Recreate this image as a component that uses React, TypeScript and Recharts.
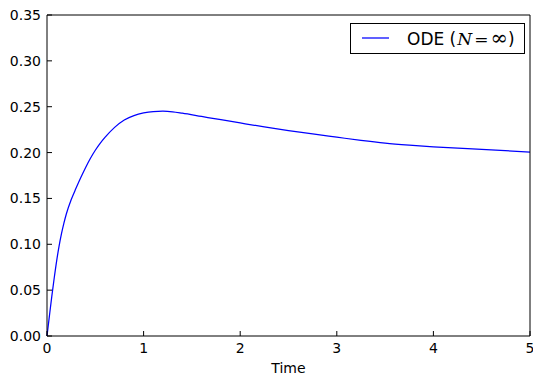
import React from 'react';
import { LineChart, Line, XAxis, YAxis, Legend } from 'recharts';

// time points and the ODE solution at each
const times = [0, 0.025, 0.05, 0.075, 0.1, 0.125, 0.15, 0.175, 0.2, 0.25, 0.3, 0.35, 0.4, 0.45, 0.5, 0.55, 0.6, 0.7, 0.8, 0.9, 1.0, 1.1, 1.2, 1.3, 1.4, 1.6, 1.8, 2.0, 2.25, 2.5, 2.75, 3.0, 3.25, 3.5, 3.75, 4.0, 4.5, 5.0];
const odeValues = [0, 0.0220, 0.0435, 0.0635, 0.0820, 0.0980, 0.1115, 0.1230, 0.1330, 0.1485, 0.1610, 0.1728, 0.1838, 0.1938, 0.2025, 0.2100, 0.2165, 0.2275, 0.2355, 0.2403, 0.2432, 0.2447, 0.2451, 0.2445, 0.2430, 0.2394, 0.2358, 0.2323, 0.2280, 0.2240, 0.2203, 0.2168, 0.2133, 0.2103, 0.2081, 0.2063, 0.2034, 0.2006];

const xTicks = [0, 1, 2, 3, 4, 5];
const yTicks = [0, 0.05, 0.1, 0.15, 0.2, 0.25, 0.3, 0.35];

const data = times.map((t, i) => ({ t, ode: odeValues[i] }));

const FONT = '"DejaVu Sans", sans-serif';
const MATH = '"DejaVu Serif", serif';
const tickStyle = { fontFamily: FONT, fontSize: 14, fill: '#000' };

const LegendBox = () => (
  <div
    style={{
      boxSizing: 'border-box',
      width: 175,
      height: 31,
      border: '1px solid #000',
      background: '#fff',
      display: 'flex',
      alignItems: 'center',
      fontFamily: FONT,
      fontSize: 17,
      color: '#000',
      lineHeight: 1,
    }}
  >
    <svg width={56} height={29} style={{ flexShrink: 0 }}>
      <line x1={11} x2={38} y1={14} y2={14} stroke="#0000ff" strokeWidth={1.25} />
    </svg>
    <span style={{ whiteSpace: 'nowrap' }}>
      ODE (
      <span style={{ fontFamily: MATH, fontStyle: 'italic', marginLeft: 1 }}>N</span>
      <span style={{ fontFamily: MATH, marginLeft: 2 }}>=</span>
      <span style={{ fontFamily: MATH, fontSize: 21, marginLeft: 2 }}>{'\u221e'}</span>)
    </span>
  </div>
);

const App = () => {
  return (
    <div style={{ position: 'absolute', left: 0, top: 0, background: '#fff' }}>
      <LineChart width={533} height={375} data={data} margin={{ top: 14, right: 2, bottom: 0, left: 0 }}>
        <XAxis
          dataKey="t"
          type="number"
          domain={[0, 5]}
          ticks={xTicks}
          interval={0}
          tickSize={-5}
          tickMargin={12}
          height={39}
          stroke="#000"
          tick={tickStyle}
          label={{ value: 'Time', position: 'insideBottom', offset: 2, style: { ...tickStyle, textAnchor: 'middle' } }}
        />
        <XAxis
          xAxisId="top"
          orientation="top"
          dataKey="t"
          type="number"
          domain={[0, 5]}
          ticks={xTicks}
          interval={0}
          tickSize={-5}
          height={1}
          stroke="#000"
          tick={false}
        />
        <YAxis
          type="number"
          domain={[0, 0.35]}
          ticks={yTicks}
          interval={0}
          tickSize={-5}
          tickMargin={11}
          width={47}
          stroke="#000"
          tick={tickStyle}
          tickFormatter={(v: number) => v.toFixed(2)}
        />
        <YAxis
          yAxisId="right"
          orientation="right"
          type="number"
          domain={[0, 0.35]}
          ticks={yTicks}
          interval={0}
          tickSize={-5}
          width={1}
          stroke="#000"
          tick={false}
        />
        <Legend
          layout="horizontal"
          verticalAlign="middle"
          align="center"
          content={() => <LegendBox />}
          wrapperStyle={{ position: 'absolute', top: 23, left: 350, width: 175 }}
        />
        <Line
          type="monotone"
          dataKey="ode"
          stroke="#0000ff"
          strokeWidth={1.25}
          dot={false}
          isAnimationActive={false}
        />
      </LineChart>
    </div>
  );
};

export default App;
